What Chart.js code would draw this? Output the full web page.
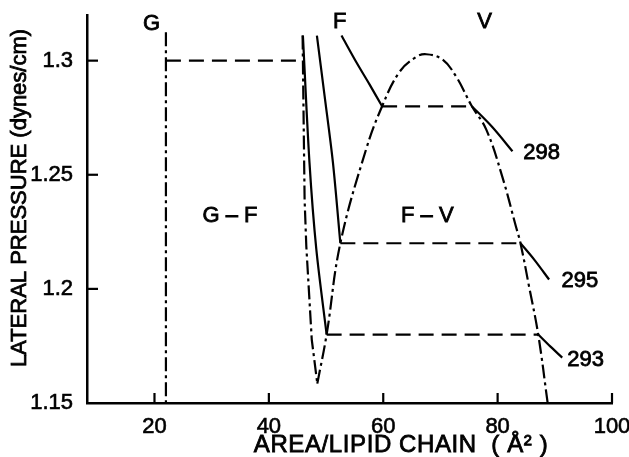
<!DOCTYPE html>
<html>
<head>
<meta charset="utf-8">
<script src="https://cdn.jsdelivr.net/npm/chart.js@4"></script>
<style>
  html, body { margin: 0; padding: 0; background: #fff; }
  #wrap { width: 629px; height: 457px; }
</style>
</head>
<body>
<div id="wrap"><canvas id="phaseChart"></canvas></div>
<script>
// axis ranges and ticks
const xRange = [8.2, 100];
const yRange = [1.15, 1.32];
const xTicks = [20, 40, 60, 80, 100];
const yTicks = [1.15, 1.2, 1.25, 1.3];

// phase boundary (dash-dot), split at the sharp minimum
const boundaryLeft = [[45.9, 1.311], [46.25, 1.239], [46.55, 1.2186], [47.5, 1.1778], [48.47, 1.1585]];
const boundaryRight = [[48.47, 1.1585], [50.1, 1.18], [52.5, 1.22], [57.0, 1.2611], [59.8, 1.28],
  [62.8, 1.2949], [65.7, 1.3015], [67.5, 1.3028], [70.3, 1.3006], [72.7, 1.2932], [75.5, 1.28],
  [78.0, 1.2699], [80.8, 1.2493], [83.2, 1.2273], [84.0, 1.22], [85.5, 1.201], [87.1, 1.18], [88.75, 1.15]];
const gLine = [[22, 1.3124], [22, 1.15]];

// tie lines (dashed)
const tie130 = [[22, 1.30], [45.9, 1.30]];
const tie128 = [[59.8, 1.28], [75.5, 1.28]];
const tie122 = [[52.5, 1.22], [84.0, 1.22]];
const tie118 = [[50.1, 1.18], [87.1, 1.18]];

// isotherms (solid)
const iso298Left = [[52.7, 1.311], [55.3, 1.2993], [57.6, 1.2896], [59.8, 1.28]];
const iso298Right = [[75.5, 1.28], [79.1, 1.2708], [82.6, 1.2603]];
const iso295Left = [[48.4, 1.311], [49.75, 1.2845], [51.2, 1.2554], [52.5, 1.22]];
const iso295Right = [[84.0, 1.22], [86.5, 1.2125], [89.0, 1.2041]];
const iso293Left = [[45.95, 1.311], [47.1, 1.2554], [48.3, 1.2173], [50.1, 1.18]];
const iso293Right = [[87.1, 1.18], [89.2, 1.1748], [91.3, 1.1699]];

// text labels: [text, x, y] in data units
const phaseLabels = [['G', 19.5, 1.316], ['F', 52.4, 1.3168], ['V', 77.7, 1.3168],
  ['G \u2013 F', 33.2, 1.2318], ['F \u2013 V', 67.7, 1.2318]];
const isoLabels = [['298', 87.7, 1.2596], ['295', 94.4, 1.2034], ['293', 95.4, 1.169]];

const FONT = "'Liberation Sans', Arial, sans-serif";
const DASHDOT = [14, 4, 3, 4];
const DASHED = [15, 8];

function series(pts, dash, tension) {
  return {
    data: pts.map(([x, y]) => ({ x: x, y: y })),
    showLine: true,
    borderColor: '#000',
    borderWidth: 2.2,
    borderDash: dash || [],
    pointRadius: 0,
    tension: tension || 0,
    fill: false
  };
}

function boldText(ctx, t, x, y) {
  ctx.strokeText(t, x, y);
  ctx.fillText(t, x, y);
}

// 안쪽 눈금, 라벨, 축 제목
const annotate = {
  id: 'annotate',
  afterDraw(chart) {
    const { ctx, chartArea: a } = chart;
    const xs = chart.scales.x, ys = chart.scales.y;
    ctx.save();
    ctx.strokeStyle = '#000';
    ctx.lineWidth = 2.2;
    xTicks.forEach(v => {
      const px = xs.getPixelForValue(v);
      ctx.beginPath(); ctx.moveTo(px, a.bottom); ctx.lineTo(px, a.bottom - 10); ctx.stroke();
    });
    yTicks.slice(1).forEach(v => {
      const py = ys.getPixelForValue(v);
      ctx.beginPath(); ctx.moveTo(a.left, py); ctx.lineTo(a.left + 11, py); ctx.stroke();
    });

    ctx.fillStyle = '#000';
    ctx.lineWidth = 0.8;
    ctx.textAlign = 'center';
    ctx.textBaseline = 'middle';
    ctx.font = '22px ' + FONT;
    phaseLabels.concat(isoLabels).forEach(([t, x, y]) => {
      boldText(ctx, t, xs.getPixelForValue(x), ys.getPixelForValue(y));
    });

    // axis titles
    ctx.font = '24px ' + FONT;
    ctx.letterSpacing = '0.6px';
    boldText(ctx, 'AREA/LIPID CHAIN  ( \u00C5\u00B2 )', 401, 445);
    ctx.letterSpacing = '0px';
    ctx.save();
    ctx.translate(20, 198);
    ctx.rotate(-Math.PI / 2);
    ctx.font = '22px ' + FONT;
    boldText(ctx, 'LATERAL PRESSURE (dynes/cm)', 0, 0);
    ctx.restore();
    ctx.restore();
  }
};

const tickStyle = { color: '#000', font: { family: FONT, size: 22 }, textStrokeColor: '#000', textStrokeWidth: 0.6, autoSkip: false, callback: v => String(v) };

const ctx = document.getElementById('phaseChart').getContext('2d');
new Chart(ctx, {
  type: 'scatter',
  data: {
    datasets: [
      series(gLine, DASHDOT),
      series(boundaryLeft, DASHDOT),
      series(boundaryRight, DASHDOT, 0.4),
      series(tie130, DASHED),
      series(tie128, DASHED),
      series(tie122, DASHED),
      series(tie118, DASHED),
      series(iso298Left, [], 0.3),
      series(iso298Right, [], 0.3),
      series(iso295Left, [], 0.3),
      series(iso295Right, [], 0.3),
      series(iso293Left, [], 0.3),
      series(iso293Right, [], 0.3)
    ]
  },
  options: {
    responsive: true,
    maintainAspectRatio: false,
    animation: false,
    layout: { padding: { top: 15, right: 17, left: 0, bottom: 0 } },
    plugins: { legend: { display: false }, tooltip: { enabled: false } },
    scales: {
      x: {
        type: 'linear',
        min: xRange[0],
        max: xRange[1],
        afterBuildTicks: s => { s.ticks = xTicks.map(v => ({ value: v })); },
        afterFit: s => { s.height = 54; s.paddingRight = 0; s.paddingLeft = 0; },
        grid: { display: false },
        border: { display: true, color: '#000', width: 2.5 },
        ticks: Object.assign({ padding: 3, maxRotation: 0 }, tickStyle)
      },
      y: {
        type: 'linear',
        min: yRange[0],
        max: yRange[1],
        afterBuildTicks: s => { s.ticks = yTicks.map(v => ({ value: v })); },
        afterFit: s => { s.width = 87; s.paddingTop = 0; s.paddingBottom = 0; },
        grid: { display: false },
        border: { display: true, color: '#000', width: 2.5 },
        ticks: Object.assign({ padding: 6 }, tickStyle)
      }
    }
  },
  plugins: [annotate]
});
</script>
</body>
</html>
